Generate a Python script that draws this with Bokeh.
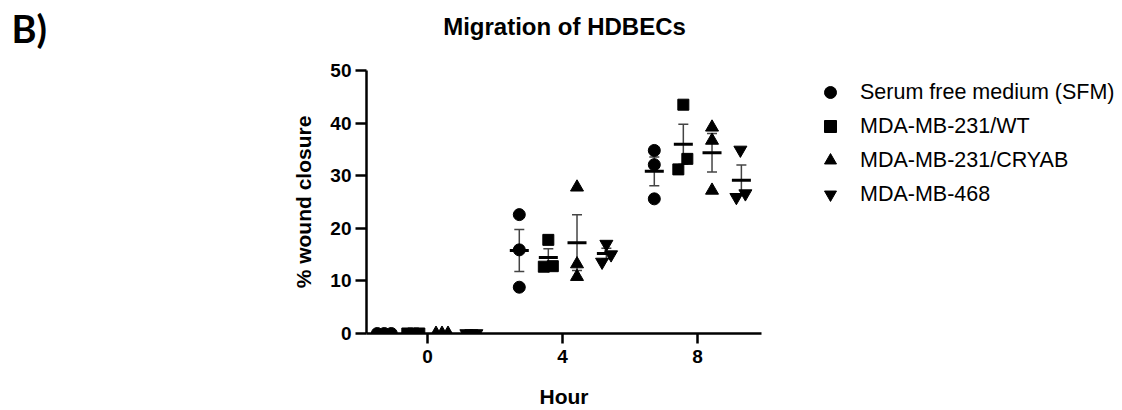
import numpy as np
from bokeh.plotting import figure
from bokeh.layouts import row, column
from bokeh.models import (ColumnDataSource, Whisker, TeeHead, Legend, LegendItem,
                          Label, Range1d, FixedTicker)
from bokeh.embed import file_html
from bokeh.resources import INLINE

# ---------------- data ----------------
hours = [0, 4, 8]
hour_labels = ["0", "4", "8"]
y_ticks = [0, 10, 20, 30, 40, 50]
series_names = ["Serum free medium (SFM)", "MDA-MB-231/WT",
                "MDA-MB-231/CRYAB", "MDA-MB-468"]
# % wound closure, three replicates per hour (rows: 0 h, 4 h, 8 h)
sfm = [[0, 0, 0], [22.6, 15.9, 8.8], [34.8, 32.1, 25.6]]
wt = [[0, 0, 0], [17.8, 12.7, 12.8], [43.5, 33.2, 31.2]]
cryab = [[0, 0, 0], [27.8, 13.2, 10.8], [39.2, 36.7, 27.2]]
mb468 = [[0, 0, 0], [17.0, 15.0, 13.6], [34.9, 25.9, 26.6]]
series_values = [sfm, wt, cryab, mb468]
title_text = "Migration of HDBECs"
panel_tag = "B)"

# ---------------- styling / layout ----------------
markers = ["circle", "square", "triangle", "inverted_triangle"]
marker_sizes = [12, 11, 13, 13]
group_offset = [-1.28, -0.42, 0.43, 1.30]          # in hours
jitter_px = [
    [[-7, 0, 7], [0, 0, 0], [0, 0, 0]],
    [[-6, 0, 6], [0, -4.5, 4.5], [0, 4, -5]],
    [[-6, 0, 6], [0, 0, 0], [0, 0, 0]],
    [[-5, 0, 5], [0, 4.7, -4.3], [-1, -5, 4]],
]
PX_PER_HOUR = 33.75
FONT = "Liberation Sans"
W, H = 1122, 410
TOP_H = 60
MAIN_W = 808
LEG_MARGIN = 7


def bare(width, height, xr, yr):
    f = figure(width=width, height=height, x_range=xr, y_range=yr,
               x_axis_location=None, y_axis_location=None,
               min_border_left=0, min_border_right=0,
               min_border_top=0, min_border_bottom=0,
               output_backend="svg", toolbar_location=None)
    f.grid.visible = False
    f.outline_line_color = None
    return f


# ---- top strip: panel tag and title (pixel-like coordinates, y downwards)
top = bare(W, TOP_H, Range1d(0, W), Range1d(TOP_H, 0))
top.add_layout(Label(x=11, y=4, text=panel_tag, text_font="Lato",
                     text_font_size="38px", text_font_style="bold",
                     text_baseline="top", text_color="black"))
top.add_layout(Label(x=564, y=26, text=title_text, text_font=FONT,
                     text_font_size="24px", text_font_style="bold",
                     text_align="center", text_baseline="middle",
                     text_color="black"))

# ---- main chart
p = figure(width=MAIN_W, height=H - TOP_H,
           min_border_left=366, min_border_right=MAIN_W - 761,
           min_border_top=10, min_border_bottom=77,
           x_range=Range1d(-1.807, 9.896), y_range=Range1d(0, 50),
           output_backend="svg", toolbar_location=None)
p.outline_line_color = None
p.grid.visible = False

for ax in (p.xaxis[0], p.yaxis[0]):
    ax.axis_line_width = 2.5
    ax.major_tick_line_width = 2.5
    ax.minor_tick_line_color = None
    ax.major_tick_in = 0
    ax.major_label_text_font = FONT
    ax.major_label_text_font_size = "19px"
    ax.major_label_text_font_style = "bold"
    ax.axis_label_text_font = FONT
    ax.axis_label_text_font_size = "21px"
    ax.axis_label_text_font_style = "bold"
    ax.axis_label_text_color = "black"
    ax.major_label_text_color = "black"

p.xaxis.ticker = FixedTicker(ticks=hours)
p.xaxis.major_label_overrides = {h: l for h, l in zip(hours, hour_labels)}
p.xaxis.major_tick_out = 10
p.xaxis.major_label_standoff = 6
p.xaxis.axis_label = "Hour"
p.xaxis.axis_label_standoff = 19

p.yaxis.ticker = FixedTicker(ticks=y_ticks)
p.yaxis.major_tick_out = 11
p.yaxis.major_label_standoff = 4
p.yaxis.axis_label = "% wound closure"
p.yaxis.axis_label_standoff = 12

# ---- legend panel (placeholder renderers only carry the marker styles)
pl = bare(W - MAIN_W, H - TOP_H, Range1d(0, 1), Range1d(0, 1))
legend_items = []

for si, (name, vals) in enumerate(zip(series_names, series_values)):
    xs, ys = [], []
    mx, means, lo, hi = [], [], [], []
    for hi_idx, h in enumerate(hours):
        reps = vals[hi_idx]
        base = h + group_offset[si]
        for ri, v in enumerate(reps):
            xs.append(base + jitter_px[si][hi_idx][ri] / PX_PER_HOUR)
            ys.append(v)
        arr = np.array(reps, dtype=float)
        m = arr.mean()
        sem = arr.std(ddof=1) / np.sqrt(len(arr))
        mx.append(base)
        means.append(m)
        lo.append(m - sem)
        hi.append(m + sem)

    pts = ColumnDataSource(dict(x=xs, y=ys))
    p.scatter("x", "y", source=pts, marker=markers[si], size=marker_sizes[si],
              fill_color="black", line_color="black")

    stat = ColumnDataSource(dict(x=mx, mean=means, lower=lo, upper=hi))
    wk = Whisker(base="x", lower="lower", upper="upper", source=stat,
                 dimension="height", line_color="#444444", line_width=1.5,
                 upper_head=TeeHead(size=10, line_color="#444444", line_width=1.5),
                 lower_head=TeeHead(size=10, line_color="#444444", line_width=1.5))
    p.add_layout(wk)
    p.scatter("x", "mean", source=stat, marker="dash", size=19,
              line_width=3, line_color="black")

    lr = pl.scatter(x=[np.nan], y=[np.nan], marker=markers[si],
                    size=marker_sizes[si], fill_color="black", line_color="black")
    legend_items.append(LegendItem(label=name, renderers=[lr]))

legend = Legend(items=legend_items, location="top_left")
legend.border_line_color = None
legend.background_fill_alpha = 0
legend.padding = 0
legend.margin = LEG_MARGIN
legend.glyph_width = 30
legend.glyph_height = 30
legend.label_height = 30
legend.spacing = 4
legend.label_standoff = 15
legend.label_text_font = FONT
legend.label_text_font_size = "21.5px"
legend.label_text_color = "black"
pl.add_layout(legend)

layout = column(top, row(p, pl, spacing=0), spacing=0)
open("out.html", "w").write(file_html(layout, INLINE))
